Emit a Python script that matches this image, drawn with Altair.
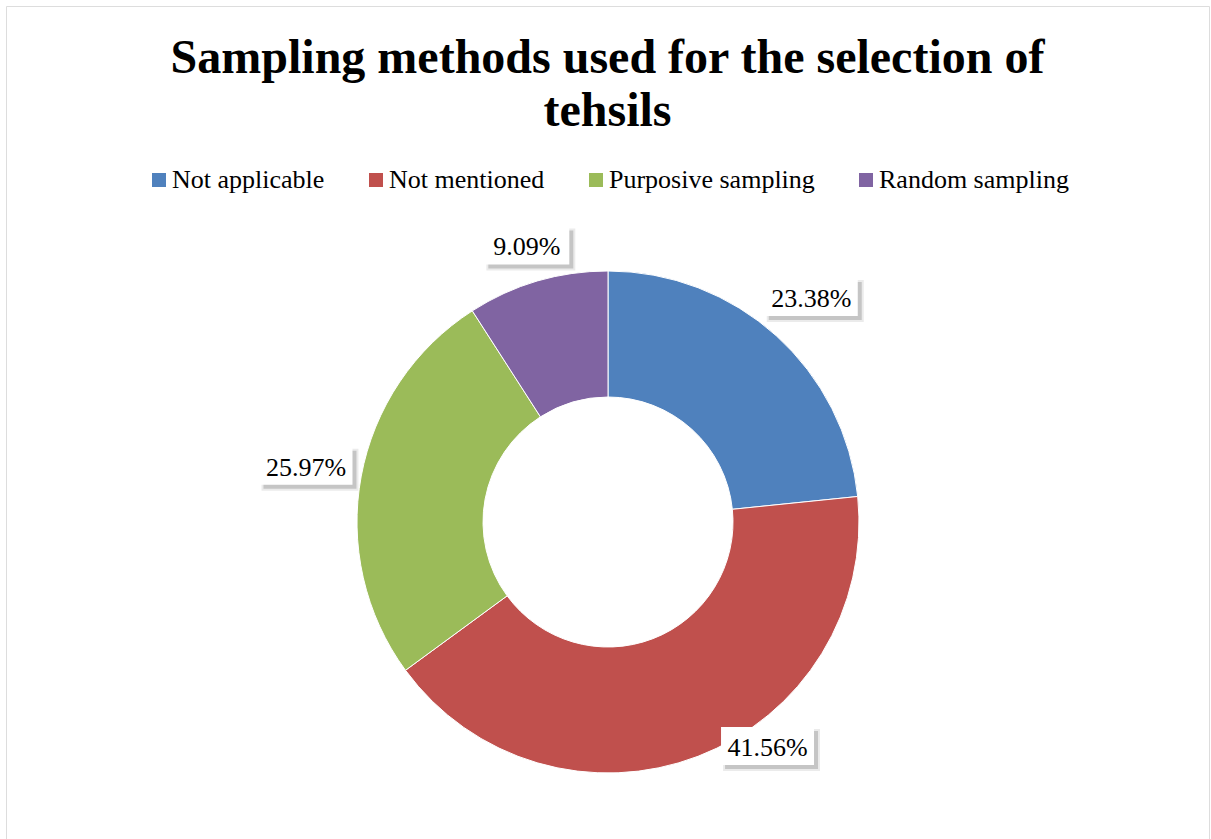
import altair as alt
import pandas as pd

categories = ["Not applicable", "Not mentioned", "Purposive sampling", "Random sampling"]
shares = [23.38, 41.56, 25.97, 9.09]
labels = ["23.38%", "41.56%", "25.97%", "9.09%"]
colors = ["#4F81BD", "#C0504D", "#9BBB59", "#8064A2"]
title_lines = ["Sampling methods used for the selection of", "tehsils"]

df = pd.DataFrame({"category": categories, "share": shares, "label": labels,
                   "order": list(range(len(categories)))})

CX, CY = 602, 516
R_OUT, R_IN = 251, 125
GAP = 7
BOX_H = 38
FONT = "Liberation Serif"

base = alt.Chart(df)

color = alt.Color(
    "category:N",
    scale=alt.Scale(domain=categories, range=colors),
    sort=categories,
    legend=alt.Legend(
        title=None, orient="none", direction="horizontal", columns=4,
        legendX=140, legendY=161, symbolType="square", symbolSize=196,
        symbolStrokeWidth=0, labelFont=FONT, labelFontSize=26, labelColor="black",
        labelOffset=0, columnPadding=38, padding=0, labelLimit=400,
    ),
)

arcs = base.mark_arc(outerRadius=R_OUT, innerRadius=R_IN, stroke="white", strokeWidth=1).encode(
    theta=alt.Theta("share:Q", stack=True),
    color=color,
    order=alt.Order("order:Q"),
    x=alt.value(CX),
    y=alt.value(CY),
)

# label placement: outside end, box kept inside the plot area (Excel "best fit" style)
lab = base.transform_window(
    cum="sum(share)", sort=[alt.SortField("order")], frame=[None, 0]
).transform_joinaggregate(
    total="sum(share)"
).transform_calculate(
    mid="(datum.cum - datum.share/2)/datum.total*2*PI",
    w="8*length(datum.label) + 45",
).transform_calculate(
    ext=f"abs(sin(datum.mid))*datum.w/2 + abs(cos(datum.mid))*{BOX_H/2}",
).transform_calculate(
    r=f"{R_OUT} + {GAP} + datum.ext",
).transform_calculate(
    py0=f"{CY} - datum.r*cos(datum.mid)",
    ymax=f"{CY} + {R_OUT} - 8 - {BOX_H/2}",
).transform_calculate(
    clamped="datum.py0 > datum.ymax",
    py="min(datum.py0, datum.ymax)",
).transform_calculate(
    px=f"datum.clamped ? {CX} + (sin(datum.mid) >= 0 ? 1 : -1)*sqrt(pow({R_OUT}+24, 2) - pow(datum.py-{CY}, 2)) : {CX} + datum.r*sin(datum.mid)",
).transform_calculate(
    bx1="datum.px - datum.w/2", bx2="datum.px + datum.w/2",
    by1=f"datum.py - {BOX_H/2}", by2=f"datum.py + {BOX_H/2}",
    sx1="datum.px - datum.w/2 + 4", sx2="datum.px + datum.w/2 + 4",
    sy1=f"datum.py - {BOX_H/2} + 4", sy2=f"datum.py + {BOX_H/2} + 4",
    tx1="datum.px - datum.w/2 + 2", tx2="datum.px + datum.w/2 + 6",
    ty1=f"datum.py - {BOX_H/2} + 2", ty2=f"datum.py + {BOX_H/2} + 6",
)

shadow2 = lab.mark_rect(color="black", opacity=0.08).encode(
    x=alt.X("tx1:Q", scale=None, axis=None), x2="tx2:Q",
    y=alt.Y("ty1:Q", scale=None, axis=None), y2="ty2:Q",
)
shadow = lab.mark_rect(color="black", opacity=0.16).encode(
    x=alt.X("sx1:Q", scale=None, axis=None), x2="sx2:Q",
    y=alt.Y("sy1:Q", scale=None, axis=None), y2="sy2:Q",
)
box = lab.mark_rect(color="white").encode(
    x=alt.X("bx1:Q", scale=None, axis=None), x2="bx2:Q",
    y=alt.Y("by1:Q", scale=None, axis=None), y2="by2:Q",
)
text = lab.mark_text(font=FONT, fontSize=26, color="black", baseline="middle", align="center", dy=2).encode(
    x=alt.X("px:Q", scale=None, axis=None),
    y=alt.Y("py:Q", scale=None, axis=None),
    text="label:N",
)

chart = alt.layer(arcs, shadow2, shadow, box, text).properties(
    width=1203, height=834,
    padding={"left": 6, "top": 6, "right": 2, "bottom": 0},
    autosize=alt.AutoSizeParams(type="none"),
    title=alt.Title(
        text=title_lines, font=FONT, fontSize=48, fontWeight="bold", color="black",
        anchor="middle", orient="top", frame="group", baseline="top",
        offset=-130, lineHeight=53,
    ),
).configure_view(
    stroke="#7a7a7a", strokeWidth=2, strokeOpacity=1
).configure(background="white")

chart.save("out.html", embed_options={"renderer": "svg", "actions": False})
